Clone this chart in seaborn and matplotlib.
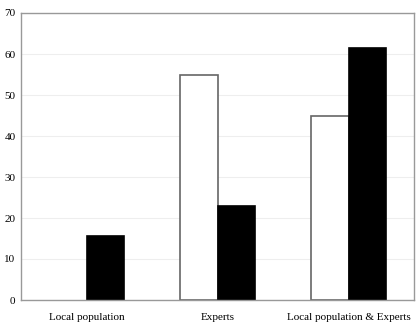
import pandas as pd
import matplotlib.pyplot as plt
import seaborn as sns

categories = ["Local population", "Experts", "Local population & Experts"]
series = ["Series 1", "Series 2"]
values_white = [0, 55, 45]
values_black = [15.5, 23, 61.5]

df = pd.DataFrame({
    "category": categories * 2,
    "series": [series[0]] * 3 + [series[1]] * 3,
    "value": values_white + values_black,
})

sns.set_style("white")
plt.rcParams['font.family'] = ['Liberation Serif', 'DejaVu Serif']

fig, ax = plt.subplots(figsize=(4.16, 3.26), dpi=100)
fig.subplots_adjust(left=21/416, right=414/416, top=1 - 13/326, bottom=1 - 300/326)

sns.barplot(data=df, x="category", y="value", hue="series",
            palette=["white", "black"], width=0.58, legend=False,
            linewidth=1.2, ax=ax)

for bar, col in zip(ax.patches, ["#666666"] * 3 + ["black"] * 3):
    # zero-height bars leave no outline in the original
    bar.set_edgecolor(col if bar.get_height() > 0 else "none")

ax.set_ylim(0, 70)
ax.set_yticks(range(0, 71, 10))
ax.yaxis.grid(True, color="#eeeeee", linewidth=0.8)
ax.set_axisbelow(True)
ax.set_xlim(-0.5, 2.5)

for s in ax.spines.values():
    s.set_color("#999999")
    s.set_linewidth(1)

ax.tick_params(axis="x", length=0, labelsize=8, pad=9, labelcolor="black")
ax.tick_params(axis="y", length=0, labelsize=8, pad=4, labelcolor="black")
ax.set_xticks([0.5, 1.5], minor=True)
ax.tick_params(axis="x", which="minor", length=3, color="#999999")
ax.set_xlabel("")
ax.set_ylabel("")

plt.savefig("out.png", dpi=100)
